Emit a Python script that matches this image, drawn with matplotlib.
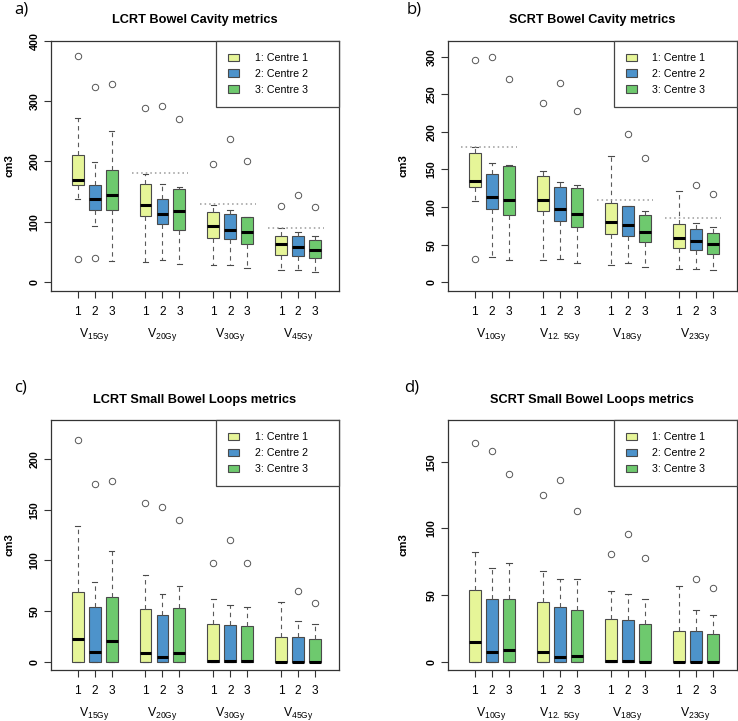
import matplotlib
matplotlib.use("Agg")
import matplotlib.pyplot as plt
from matplotlib.patches import Patch

plt.rcParams["font.family"] = ["Liberation Sans", "DejaVu Sans"]
plt.rcParams["mathtext.fontset"] = "custom"
plt.rcParams["mathtext.rm"] = "Liberation Sans"
plt.rcParams["mathtext.it"] = "Liberation Sans:italic"
plt.rcParams["mathtext.bf"] = "Liberation Sans:bold"

centres = ["1: Centre 1", "2: Centre 2", "3: Centre 3"]
colors = ["#e6f598", "#4d93cb", "#6ec96e"]
tick_labels = ["1", "2", "3"] * 4
lcrt_groups = [r"V$_{\mathrm{15Gy}}$", r"V$_{\mathrm{20Gy}}$", r"V$_{\mathrm{30Gy}}$", r"V$_{\mathrm{45Gy}}$"]
scrt_groups = [r"V$_{\mathrm{10Gy}}$", r"V$_{\mathrm{12.\ 5Gy}}$", r"V$_{\mathrm{18Gy}}$", r"V$_{\mathrm{23Gy}}$"]

# a) LCRT bowel cavity (order: group1 c1,c2,c3, group2 c1.. )
a_whishi = [272, 199, 250, 179, 163, 157, 128, 120, 108, 89, 82, 76]
a_q3 = [211, 161, 185, 162, 137, 154, 116, 112, 108, 76, 76, 69]
a_med = [169, 137, 144, 128, 113, 118, 92, 86, 82, 62, 58, 53]
a_q1 = [161, 120, 119, 110, 96, 86, 72, 71, 62, 45, 43, 40]
a_whislo = [137, 92, 35, 33, 36, 29, 27, 28, 23, 19, 19, 16]
a_fliers = [[375, 38], [323, 40], [329], [288], [292], [271], [196], [237], [201], [126], [144], [124]]
a_limits = [None, 180, 130, 90]

# b) SCRT bowel cavity
b_whishi = [180, 159, 156, 148, 133, 129, 168, 102, 95, 121, 79, 73]
b_q3 = [172, 144, 155, 141, 127, 126, 105, 102, 90, 78, 71, 65]
b_med = [135, 114, 110, 109, 98, 91, 80, 76, 67, 59, 55, 51]
b_q1 = [127, 98, 89, 95, 82, 74, 64, 62, 53, 45, 43, 37]
b_whislo = [108, 34, 29, 29, 31, 25, 23, 26, 20, 18, 17, 16]
b_fliers = [[296, 31], [299], [270], [238], [265], [228], [], [197], [165], [], [129], [117]]
b_limits = [180, None, 110, 85]

# c) LCRT small bowel loops
c_whishi = [134, 79, 109, 86, 67, 75, 62, 56, 54, 59, 40, 37]
c_q3 = [69, 54, 64, 52, 46, 53, 37, 36, 35, 24, 24, 22]
c_med = [22, 10, 20, 9, 5, 9, 1, 1, 1, 0, 0, 0]
c_q1 = [0] * 12
c_whislo = [0] * 12
c_fliers = [[219], [175], [178], [157], [153], [140], [97], [120], [97], [], [70], [58]]

# d) SCRT small bowel loops
d_whishi = [82, 70, 74, 68, 62, 62, 53, 51, 47, 57, 39, 35]
d_q3 = [54, 47, 47, 45, 41, 39, 32, 31, 28, 23, 23, 21]
d_med = [15, 7, 9, 7, 3.5, 4, 0.4, 0.4, 0, 0, 0, 0]
d_q1 = [0] * 12
d_whislo = [0] * 12
d_fliers = [[164], [158], [141], [125], [136], [113], [81], [96], [78], [], [62], [55]]

positions = [1, 2, 3, 5, 6, 7, 9, 10, 11, 13, 14, 15]

fig = plt.figure(figsize=(7.38, 7.21), dpi=100)


def panel(rect, title, letter, letter_xy, groups, whishi, q3, med, q1, whislo, fliers,
          ylim, ystep, limits=None, ylab_x=-0.124):
    ax = fig.add_axes(rect)
    stats = []
    for i in range(12):
        stats.append(dict(whislo=whislo[i], q1=q1[i], med=med[i], q3=q3[i],
                          whishi=whishi[i], fliers=fliers[i]))
    bp = ax.bxp(stats, positions=positions, widths=0.7, capwidths=0.33,
                patch_artist=True, showfliers=True,
                boxprops=dict(edgecolor="#4a4a4a", linewidth=0.8),
                whiskerprops=dict(color="#5a5a5a", linewidth=0.8, linestyle=(0, (4, 3.5))),
                capprops=dict(color="#4a4a4a", linewidth=0.8),
                medianprops=dict(color="black", linewidth=2.2, solid_capstyle="butt"),
                flierprops=dict(marker="o", markerfacecolor="none", markeredgecolor="#555555",
                                markersize=4.6, markeredgewidth=0.7))
    for i, box in enumerate(bp["boxes"]):
        box.set_facecolor(colors[i % 3])

    if limits:
        for g, lim in enumerate(limits):
            if lim is not None:
                ax.plot([positions[g * 3] - 0.8, positions[g * 3 + 2] + 0.5], [lim, lim],
                        color="#9a9a9a", linestyle=(0, (1, 2)), linewidth=1.1)

    ax.set_xlim(-0.59, 16.41)
    ax.set_ylim(*ylim)
    top = int(ylim[1] // ystep) * ystep
    ax.set_yticks(range(0, top + 1, ystep))
    ax.set_xticks(positions)
    ax.set_xticklabels(tick_labels, fontsize=8.6)
    for lab in ax.get_yticklabels():
        lab.set_rotation(90)
        lab.set_va("center")
        lab.set_fontweight("bold")
        lab.set_fontsize(7.7)
    ax.tick_params(axis="x", length=4.8, width=0.8, pad=6, colors="#333333", labelcolor="black")
    ax.tick_params(axis="y", length=4.8, width=0.8, pad=3, colors="#333333", labelcolor="black")
    for s in ax.spines.values():
        s.set_color("#333333")
        s.set_linewidth(0.9)

    for g, name in enumerate(groups):
        ax.text(positions[g * 3 + 1], -0.175, name, transform=ax.get_xaxis_transform(),
                ha="center", va="center", fontsize=8.8)

    ax.set_ylabel("cm3", fontweight="bold", fontsize=8.2)
    ax.yaxis.set_label_coords(ylab_x, 0.5)
    ax.set_title(title, fontweight="bold", fontsize=9.2, pad=12.5)

    handles = [Patch(facecolor=c, edgecolor="#4a4a4a", linewidth=0.8) for c in colors]
    leg = ax.legend(handles, centres, loc="upper left", bbox_to_anchor=(0.574, 1.0, 0.426, 0.0),
                    mode="expand", borderaxespad=0, fontsize=7.7, handlelength=1.0,
                    handleheight=0.68, handletextpad=1.45, labelspacing=0.55, borderpad=1.15,
                    fancybox=False, framealpha=1)
    leg.get_frame().set_edgecolor("#444444")
    leg.get_frame().set_linewidth(0.9)

    fig.text(letter_xy[0] / 738, 1 - letter_xy[1] / 721, letter, family="Open Sans",
             fontsize=12, ha="left", va="top")
    return ax


panel([50.7 / 738, 1 - 291 / 721, 288.3 / 738, 250.3 / 721], "LCRT Bowel Cavity metrics", "a)",
      (14, 1), lcrt_groups, a_whishi, a_q3, a_med, a_q1, a_whislo, a_fliers,
      (-15.4, 400.6), 100, a_limits)
panel([447.7 / 738, 1 - 291 / 721, 289 / 738, 250.3 / 721], "SCRT Bowel Cavity metrics", "b)",
      (407, 1), scrt_groups, b_whishi, b_q3, b_med, b_q1, b_whislo, b_fliers,
      (-11.6, 321.3), 50, b_limits, ylab_x=-0.134)
panel([50.7 / 738, 1 - 670 / 721, 288.3 / 738, 250 / 721], "LCRT Small Bowel Loops metrics", "c)",
      (14, 380), lcrt_groups, c_whishi, c_q3, c_med, c_q1, c_whislo, c_fliers,
      (-8.2, 238.5), 50)
panel([447.7 / 738, 1 - 670 / 721, 289 / 738, 250 / 721], "SCRT Small Bowel Loops metrics", "d)",
      (404, 380), scrt_groups, d_whishi, d_q3, d_med, d_q1, d_whislo, d_fliers,
      (-6.2, 181.3), 50, ylab_x=-0.134)

fig.savefig("out.png", dpi=100)
